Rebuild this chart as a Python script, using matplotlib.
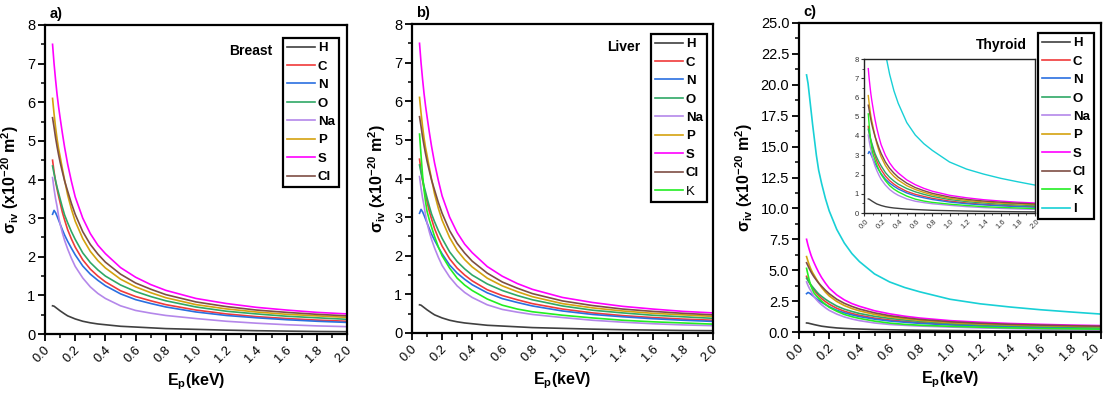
import numpy as np
import matplotlib
matplotlib.use("Agg")
import matplotlib.pyplot as plt
import matplotlib.transforms as mtransforms
from matplotlib.ticker import MultipleLocator, FormatStrFormatter

# ---------------- data ----------------
E = [0.05, 0.06, 0.07, 0.08, 0.09, 0.10, 0.115, 0.13, 0.15, 0.175, 0.20,
     0.25, 0.30, 0.35, 0.40, 0.50, 0.60, 0.70, 0.80, 1.00, 1.20, 1.40,
     1.60, 1.80, 2.00]

H  = [0.73, 0.72, 0.69, 0.66, 0.63, 0.60, 0.56, 0.52, 0.47, 0.43, 0.39,
      0.33, 0.29, 0.26, 0.24, 0.20, 0.18, 0.16, 0.14, 0.12, 0.10, 0.085,
      0.075, 0.065, 0.06]
C  = [4.50, 4.20, 3.95, 3.75, 3.57, 3.40, 3.15, 2.95, 2.70, 2.46, 2.25,
      1.92, 1.68, 1.50, 1.35, 1.12, 0.97, 0.86, 0.76, 0.62, 0.52, 0.45,
      0.40, 0.36, 0.33]
N  = [3.10, 3.20, 3.14, 3.05, 2.95, 2.85, 2.70, 2.56, 2.40, 2.22, 2.05,
      1.76, 1.55, 1.39, 1.25, 1.04, 0.89, 0.79, 0.70, 0.57, 0.48, 0.42,
      0.37, 0.33, 0.30]
O  = [4.35, 4.15, 3.97, 3.80, 3.65, 3.50, 3.28, 3.08, 2.88, 2.65, 2.45,
      2.10, 1.85, 1.66, 1.50, 1.27, 1.10, 0.97, 0.86, 0.70, 0.59, 0.52,
      0.46, 0.42, 0.38]
Na = [4.05, 3.75, 3.50, 3.30, 3.05, 2.85, 2.62, 2.42, 2.20, 1.96, 1.75,
      1.45, 1.22, 1.05, 0.92, 0.73, 0.61, 0.54, 0.48, 0.40, 0.33, 0.28,
      0.24, 0.21, 0.19]
P  = [6.10, 5.70, 5.35, 5.05, 4.80, 4.60, 4.28, 3.98, 3.60, 3.23, 2.92,
      2.47, 2.14, 1.90, 1.71, 1.42, 1.22, 1.07, 0.94, 0.76, 0.65, 0.57,
      0.51, 0.47, 0.43]
S  = [7.50, 7.00, 6.58, 6.20, 5.88, 5.60, 5.20, 4.83, 4.40, 3.95, 3.55,
      3.00, 2.60, 2.30, 2.08, 1.72, 1.47, 1.28, 1.13, 0.92, 0.79, 0.69,
      0.62, 0.56, 0.52]
Cl = [5.60, 5.35, 5.08, 4.85, 4.64, 4.45, 4.20, 3.96, 3.70, 3.38, 3.10,
      2.65, 2.32, 2.07, 1.86, 1.55, 1.32, 1.16, 1.02, 0.83, 0.71, 0.62,
      0.56, 0.51, 0.47]
K  = [5.15, 4.60, 4.10, 3.70, 3.40, 3.15, 2.93, 2.74, 2.50, 2.23, 2.00,
      1.68, 1.42, 1.24, 1.10, 0.88, 0.72, 0.62, 0.55, 0.46, 0.39, 0.33,
      0.29, 0.26, 0.23]
I  = [20.8, 20.1, 19.0, 17.9, 16.8, 15.8, 14.3, 13.1, 12.0, 10.8, 9.8,
      8.3, 7.2, 6.35, 5.7, 4.7, 4.05, 3.6, 3.25, 2.65, 2.28, 2.02,
      1.80, 1.62, 1.45]

VALUES = {"H": H, "C": C, "N": N, "O": O, "Na": Na, "P": P, "S": S,
          "Cl": Cl, "K": K, "I": I}
COLORS = {"H": "#404040", "C": "#f03a3a", "N": "#2a6fe0", "O": "#2fa866",
          "Na": "#b487ea", "P": "#d4a20f", "S": "#ff00ff", "Cl": "#7e4e44",
          "K": "#22ee22", "I": "#18d0d6"}

PANELS = [
    ("a)", "Breast", ["H", "C", "N", "O", "Na", "P", "S", "Cl"]),
    ("b)", "Liver", ["H", "C", "N", "O", "Na", "P", "S", "Cl", "K"]),
    ("c)", "Thyroid", ["H", "C", "N", "O", "Na", "P", "S", "Cl", "K", "I"]),
]
XTICKS = ["0.0", "0.2", "0.4", "0.6", "0.8", "1.0", "1.2", "1.4", "1.6", "1.8", "2.0"]

# ---------------- style ----------------
plt.rcParams["font.family"] = ["Liberation Sans", "DejaVu Sans"]
plt.rcParams["mathtext.default"] = "regular"
NARROW = ["Liberation Sans Narrow", "Liberation Sans", "DejaVu Sans"]

W, Hpx = 1105, 400
fig = plt.figure(figsize=(W / 100, Hpx / 100), dpi=100)


def frac(l, t, r, b):
    return [l / W, 1 - b / Hpx, (r - l) / W, (b - t) / Hpx]


def shift_label(lab, dx_px):
    off = mtransforms.ScaledTranslation(dx_px / 100, 0, fig.dpi_scale_trans)
    lab.set_transform(lab.get_transform() + off)


axes_px = [(45, 25, 347, 334), (412, 24, 713, 333), (799, 23, 1101, 332)]
legend_px = [(283, 38), (651, 34), (1038, 33)]
title_px = [(272, 51), (640, 47), (1027, 45)]

for idx, ((lab, tissue, elems), box) in enumerate(zip(PANELS, axes_px)):
    ax = fig.add_axes(frac(*box))
    handles = []
    for el in elems:
        ln, = ax.plot(E, VALUES[el], color=COLORS[el], lw=1.2)
        handles.append(ln)
    ax.set_xlim(0, 2.0)
    ax.set_xticks(np.arange(0, 2.01, 0.2))
    ax.xaxis.set_minor_locator(MultipleLocator(0.1))
    if idx < 2:
        ax.set_ylim(0, 8)
        ax.yaxis.set_major_locator(MultipleLocator(1))
        ax.yaxis.set_minor_locator(MultipleLocator(0.5))
        ax.yaxis.set_major_formatter(FormatStrFormatter("%d"))
    else:
        ax.set_ylim(0, 25)
        ax.yaxis.set_major_locator(MultipleLocator(2.5))
        ax.yaxis.set_minor_locator(MultipleLocator(1.25))
        ax.yaxis.set_major_formatter(FormatStrFormatter("%.1f"))
    ax.tick_params(axis="y", labelsize=10.5)
    ax.tick_params(which="major", direction="out", length=5, width=1.3,
                   top=False, right=False, pad=2)
    ax.tick_params(which="minor", direction="out", length=3, width=1.1,
                   top=False, right=False)
    ax.set_xticklabels(XTICKS, rotation=45, ha="center", va="top",
                       fontsize=9.3)
    xl = ax.get_xticklabels()
    for k, t in enumerate(xl):
        shift_label(t, -9 if (idx == 2 and k == len(xl) - 1) else -3)
    for sp in ax.spines.values():
        sp.set_linewidth(1.6)
    ax.set_xlabel("E$_p$(keV)", fontsize=11.5, fontweight="bold", labelpad=5)
    ax.set_ylabel(r"σ$_{iv}$ (x10$^{-20}$ m$^2$)", fontsize=11.5,
                  fontweight="bold", labelpad=4)
    ax.text(0.015, 1.012, lab, transform=ax.transAxes, fontsize=10.5,
            fontweight="bold", va="bottom", ha="left")

    lx, ly = legend_px[idx]
    leg = ax.legend(handles, elems, loc="upper left",
                    bbox_to_anchor=(lx / W, 1 - ly / Hpx),
                    bbox_transform=fig.transFigure, frameon=True,
                    fancybox=False, edgecolor="black", framealpha=1,
                    handlelength=2.1, handletextpad=0.25, labelspacing=0.47,
                    borderpad=0.3, borderaxespad=0,
                    prop={"family": NARROW, "weight": "bold", "size": 9.5})
    leg.get_frame().set_linewidth(1.6)
    if tissue == "Liver":
        leg.get_texts()[-1].set_fontweight("normal")
    tx, ty = title_px[idx]
    fig.text(tx / W, 1 - ty / Hpx, tissue, ha="right", va="center",
             fontsize=10, fontweight="bold", family=NARROW)

    if idx == 2:
        ins = fig.add_axes(frac(864, 59, 1035, 213))
        for el in elems:
            ins.plot(E, VALUES[el], color=COLORS[el], lw=1.0)
        ins.set_xlim(0, 2.0)
        ins.set_ylim(0, 8)
        ins.set_xticks(np.arange(0, 2.01, 0.2))
        ins.yaxis.set_major_locator(MultipleLocator(1))
        ins.yaxis.set_minor_locator(MultipleLocator(0.5))
        ins.xaxis.set_minor_locator(MultipleLocator(0.1))
        ins.yaxis.set_major_formatter(FormatStrFormatter("%d"))
        ins.tick_params(which="major", direction="out", length=2.5, width=0.8,
                        labelsize=5.5, pad=1, colors="#333333")
        ins.tick_params(which="minor", direction="out", length=1.5, width=0.6,
                        colors="#333333")
        ins.set_xticklabels(XTICKS, rotation=45, ha="center", va="top")
        for sp in ins.spines.values():
            sp.set_linewidth(1.0)
            sp.set_color("#222222")

fig.savefig("out.png", dpi=100)
